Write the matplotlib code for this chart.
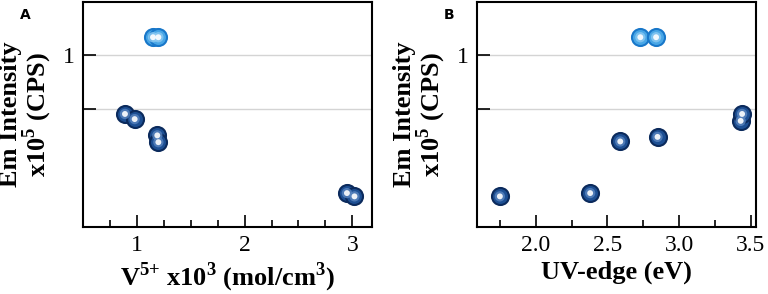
import numpy as np
import matplotlib.pyplot as plt
from matplotlib.ticker import MultipleLocator, FixedLocator, NullLocator, NullFormatter

plt.rcParams['font.family'] = ['Liberation Serif', 'DejaVu Serif']
plt.rcParams['mathtext.fontset'] = 'custom'
plt.rcParams['mathtext.rm'] = 'Liberation Serif:bold'
plt.rcParams['mathtext.bf'] = 'Liberation Serif:bold'

# Panel A: V5+ concentration vs emission intensity
v5_dark = [0.89, 0.98, 1.19, 1.20, 2.95, 3.02]
em_a_dark = [0.47, 0.44, 0.357, 0.327, 0.17, 0.163]
v5_light = [1.15, 1.20]
em_a_light = [1.26, 1.26]

# Panel B: UV-edge vs emission intensity
uv_dark = [1.75, 2.38, 2.59, 2.85, 3.43, 3.44]
em_b_dark = [0.163, 0.17, 0.33, 0.35, 0.43, 0.47]
uv_light = [2.73, 2.84]
em_b_light = [1.26, 1.26]

DARK, DARK_MID, DARK_EDGE = '#1d4f93', '#5b86c0', '#0b2a5c'
LIGHT, LIGHT_MID, LIGHT_EDGE = '#48a6e6', '#8ccaf2', '#1877c9'


def balls(ax, x, y, face, mid, edge):
    ax.scatter(x, y, s=150, color=face, edgecolors=edge, linewidths=1.5, zorder=3)
    ax.scatter(x, y, s=55, color=mid, alpha=0.8, edgecolors='none', zorder=4)
    ax.scatter(x, y, s=18, color='white', alpha=0.9, edgecolors='none', zorder=5)


def style(ax):
    ax.set_yscale('log')
    ax.set_ylim(0.11, 1.98)
    ax.yaxis.set_major_locator(FixedLocator([0.5, 1]))
    ax.yaxis.set_minor_locator(NullLocator())
    ax.yaxis.set_minor_formatter(NullFormatter())
    ax.set_yticklabels(['', '1'])
    for v in [0.5, 1]:
        ax.axhline(v, color='#d4d4d4', lw=1, zorder=1)
    ax.tick_params(axis='both', which='major', direction='in', length=9, width=1.2,
                   labelsize=17, pad=6)
    ax.tick_params(axis='x', which='minor', direction='in', length=5, width=1.2)
    for s in ax.spines.values():
        s.set_linewidth(1.5)
    ax.set_ylabel('Em Intensity\nx10$^5$ (CPS)', fontsize=19, fontweight='bold',
                  linespacing=0.95, labelpad=6)


fig = plt.figure(figsize=(7.68, 2.94), dpi=100)
ax1 = fig.add_axes([0.108, 0.228, 0.376, 0.765])
ax2 = fig.add_axes([0.621, 0.228, 0.363, 0.765])

balls(ax1, v5_dark, em_a_dark, DARK, DARK_MID, DARK_EDGE)
balls(ax1, v5_light, em_a_light, LIGHT, LIGHT_MID, LIGHT_EDGE)
style(ax1)
ax1.set_xlim(0.5, 3.18)
ax1.xaxis.set_major_locator(MultipleLocator(1))
ax1.xaxis.set_minor_locator(MultipleLocator(0.25))
ax1.set_xlabel('V$^{5{+}}$ x10$^3$ (mol/cm$^3$)', fontsize=19, fontweight='bold', labelpad=3)

balls(ax2, uv_dark, em_b_dark, DARK, DARK_MID, DARK_EDGE)
balls(ax2, uv_light, em_b_light, LIGHT, LIGHT_MID, LIGHT_EDGE)
style(ax2)
ax2.set_xlim(1.59, 3.535)
ax2.xaxis.set_major_locator(MultipleLocator(0.5))
ax2.xaxis.set_minor_locator(MultipleLocator(0.25))
ax2.xaxis.set_major_formatter(plt.FormatStrFormatter('%.1f'))
ax2.set_xlabel('UV-edge (eV)', fontsize=19, fontweight='bold', labelpad=3)

fig.text(0.026, 0.935, 'A', fontsize=10, fontweight='bold', family='DejaVu Sans')
fig.text(0.578, 0.935, 'B', fontsize=10, fontweight='bold', family='DejaVu Sans')

fig.savefig('out.png', dpi=100)
